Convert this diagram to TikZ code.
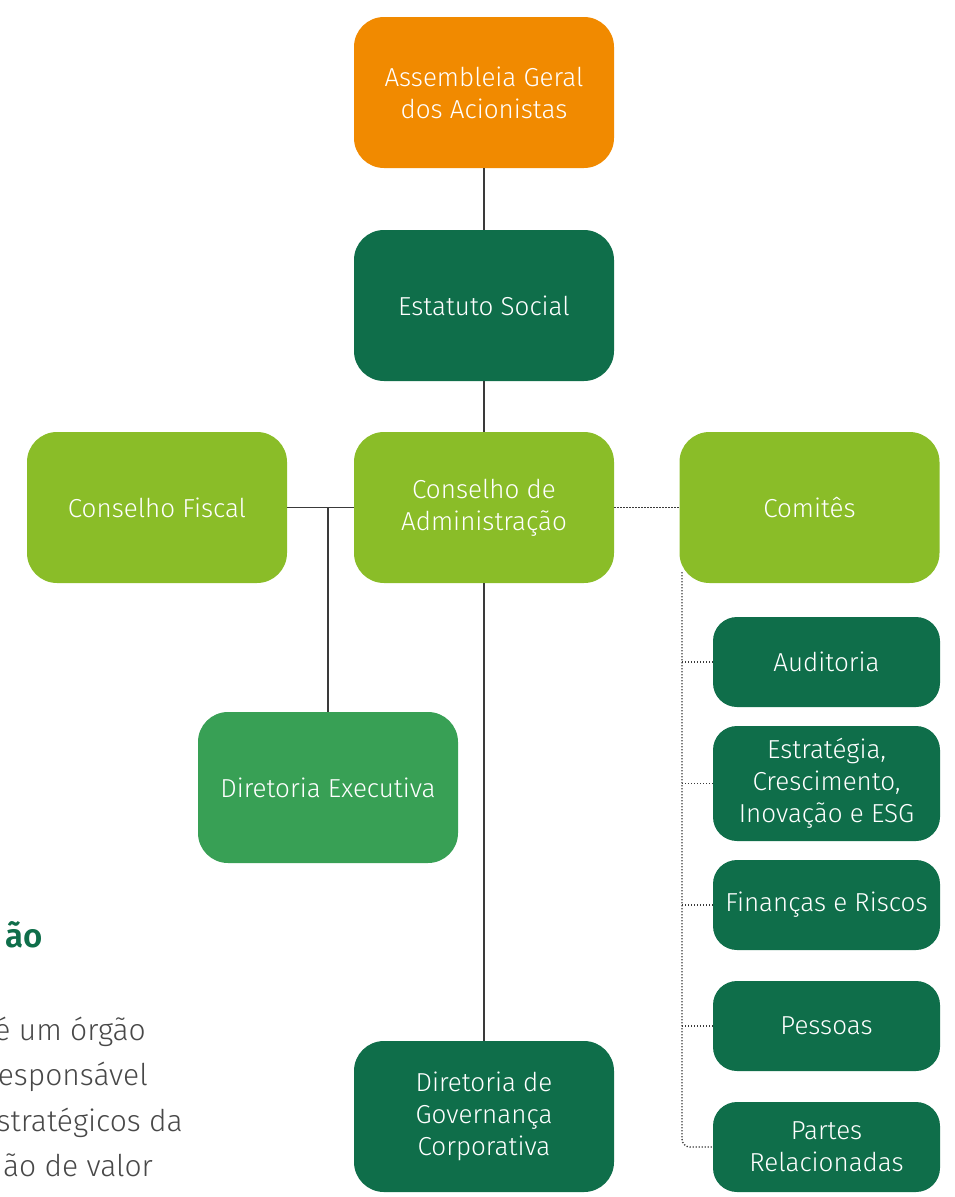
\documentclass[tikz,border=0pt]{standalone}
\usepackage{fontspec}
\setmainfont{Fira Sans}[UprightFont={* Light},BoldFont={* SemiBold}]
\definecolor{orng}{HTML}{F18A00}
\definecolor{dkgreen}{HTML}{0F6E4A}
\definecolor{ltgreen}{HTML}{8ABD28}
\definecolor{mdgreen}{HTML}{38A055}
\definecolor{linegray}{HTML}{3A3A3A}
\definecolor{txtgray}{HTML}{484848}
\tikzset{
  box/.style={rounded corners=30pt, minimum width=260pt, minimum height=151pt,
    text=white, align=center, inner sep=0pt, font=\fontsize{26}{32}\selectfont},
  smallbox/.style={box, rounded corners=24pt, minimum width=227pt, minimum height=90pt},
  conn/.style={draw=linegray, line width=1.8pt},
  dotconn/.style={draw=linegray, line width=1.3pt, dash pattern=on 1.3pt off 1.7pt},
  heading/.style={text=dkgreen, font=\fontsize{33}{38}\bfseries\selectfont, inner sep=0pt},
  body/.style={text=txtgray, font=\fontsize{30}{36}\selectfont, inner sep=0pt}
}
\begin{document}
\begin{tikzpicture}[x=1pt,y=-1pt]
\useasboundingbox (0,0) rectangle (954,1197);
% boxes
\node[box, fill=orng] (ag) at (484,92.5) {Assembleia Geral\\dos Acionistas};
\node[box, fill=dkgreen] (es) at (484,305.5) {Estatuto Social};
\node[box, fill=ltgreen] (ca) at (484,507.5) {Conselho de\\Administração};
\node[box, fill=ltgreen] (cf) at (157,507.5) {Conselho Fiscal};
\node[box, fill=ltgreen] (co) at (809.5,507.5) {Comitês};
\node[box, fill=mdgreen] (de) at (328,787.5) {Diretoria Executiva};
\node[box, fill=dkgreen] (dg) at (484,1116.5) {Diretoria de\\Governança\\Corporativa};
\node[smallbox, fill=dkgreen] (au) at (826.5,662) {Auditoria};
\node[smallbox, fill=dkgreen, minimum height=115pt] (et) at (826.5,783.5) {Estratégia,\\Crescimento,\\Inovação e ESG};
\node[smallbox, fill=dkgreen] (fr) at (826.5,905) {Finanças e Riscos};
\node[smallbox, fill=dkgreen] (pe) at (826.5,1026) {Pessoas};
\node[smallbox, fill=dkgreen] (pr) at (826.5,1147) {Partes\\Relacionadas};
% solid connectors
\draw[conn] (ag) -- (es);
\draw[conn] (es) -- (ca);
\draw[conn] (ca) -- (dg);
\draw[conn] (cf) -- (ca);
\draw[conn] (cf.east -| de.north) -- (de.north);
% dotted connectors
\draw[dotconn] (ca) -- (co);
\coordinate (vt) at (682,572);
\draw[dotconn, rounded corners=8pt] (vt) |- (pr.west);
\draw[dotconn] (au.west -| vt) -- (au.west);
\draw[dotconn] (et.west -| vt) -- (et.west);
\draw[dotconn] (fr.west -| vt) -- (fr.west);
\draw[dotconn] (pe.west -| vt) -- (pe.west);
% cut-off text on the left
\node[heading, anchor=base east] (h1) at (43,947) {ão};
\node[body, anchor=base east] (b1) at (146,1040) {é um órgão};
\node[body, anchor=base east] (b2) at (148,1085) {esponsável};
\node[body, anchor=base east] (b3) at (183,1131) {stratégicos da};
\node[body, anchor=base east] (b4) at (153,1176) {ão de valor};
\end{tikzpicture}
\end{document}
